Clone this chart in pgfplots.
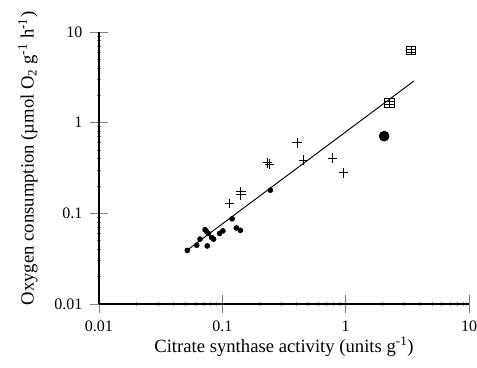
\documentclass[border=0pt]{standalone}
\usepackage{pgfplots}
\pgfplotsset{compat=1.18}
\usepackage{fontspec}
\setmainfont{Liberation Serif}
\pgfdeclareplotmark{boxgrid}{%
  \pgfpathrectangle{\pgfpoint{-\pgfplotmarksize}{-0.9\pgfplotmarksize}}{\pgfpoint{2\pgfplotmarksize}{1.8\pgfplotmarksize}}%
  \pgfpathmoveto{\pgfpoint{0pt}{-0.9\pgfplotmarksize}}\pgfpathlineto{\pgfpoint{0pt}{0.9\pgfplotmarksize}}%
  \pgfpathmoveto{\pgfpoint{-\pgfplotmarksize}{0.3\pgfplotmarksize}}\pgfpathlineto{\pgfpoint{\pgfplotmarksize}{0.3\pgfplotmarksize}}%
  \pgfpathmoveto{\pgfpoint{-\pgfplotmarksize}{-0.3\pgfplotmarksize}}\pgfpathlineto{\pgfpoint{\pgfplotmarksize}{-0.3\pgfplotmarksize}}%
  \pgfusepathqstroke}
\begin{document}
\begin{tikzpicture}
\useasboundingbox (-74.25pt,-47.25pt) rectangle (283.5pt,228pt);
\begin{axis}[
  scale only axis,
  width=277.5pt, height=204pt,
  xmode=log, ymode=log,
  xmin=0.01, xmax=10, ymin=0.01, ymax=10,
  axis x line*=bottom, axis y line*=left,
  axis line style={-, line width=0.8pt},
  xtick={0.01,0.1,1,10}, xticklabels={0.01,0.1,1,10},
  ytick={0.01,0.1,1,10}, yticklabels={0.01,0.1,1,10},
  major tick length=14pt,
  minor tick length=3pt,
  tick align=center,
  minor tick style={line width=0.5pt},
  major tick style={line width=0.7pt},
  tick label style={font=\fontsize{12}{14}\selectfont},
  yticklabel style={xshift=-2pt},
  xticklabel style={yshift=-2pt},
  label style={font=\fontsize{14}{16}\selectfont},
  xlabel={Citrate synthase activity (units g\textsuperscript{-1})},
  ylabel={Oxygen consumption (µmol O\textsubscript{2} g\textsuperscript{-1} h\textsuperscript{-1})},
  xlabel style={at={(axis description cs:0.5,-0.158)}, anchor=center},
  ylabel style={at={(axis description cs:-0.192,0.535)}, anchor=center},
  clip=false,
]
\addplot[black, line width=0.7pt, no marks] coordinates {(0.0508,0.0385) (3.59,2.89)};
\addplot[only marks, mark=*, mark size=1.9pt, black] coordinates {
 (0.052,0.039) (0.062,0.0445) (0.066,0.052) (0.0755,0.0437) (0.0725,0.066)
 (0.0745,0.063) (0.077,0.060) (0.082,0.054) (0.085,0.052) (0.095,0.060)
 (0.101,0.064) (0.12,0.087) (0.130,0.069) (0.140,0.065) (0.245,0.18)};
\addplot[only marks, mark=*, mark size=3.8pt, black] coordinates {(2.05,0.71)};
\addplot[only marks, mark=+, mark size=3.6pt, black, line width=0.7pt] coordinates {
 (0.114,0.129) (0.141,0.175) (0.141,0.160) (0.232,0.36) (0.242,0.35)
 (0.404,0.60) (0.454,0.387) (0.785,0.407) (0.96,0.28)};
\addplot[only marks, mark=boxgrid, mark size=3.6pt, black, line width=0.6pt] coordinates {
 (3.39,6.25) (2.26,1.64)};
\end{axis}
\end{tikzpicture}
\end{document}
